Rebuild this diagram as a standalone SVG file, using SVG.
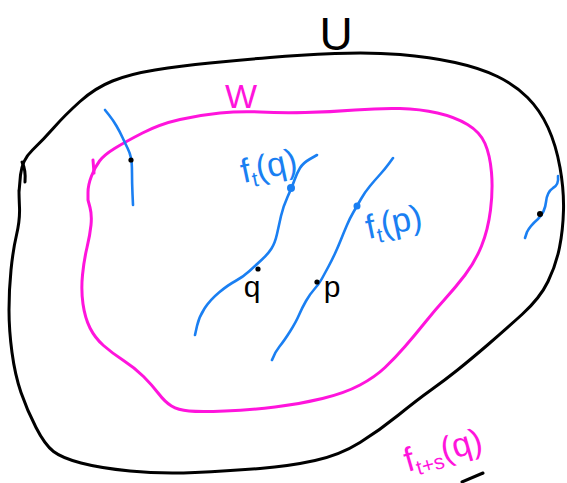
<svg xmlns="http://www.w3.org/2000/svg" width="567" height="483" viewBox="0 0 567 483">
<style>
.k{fill:none;stroke:#000;stroke-width:3;stroke-linecap:round;stroke-linejoin:round}
.m{fill:none;stroke:#ff14dc;stroke-width:3;stroke-linecap:round;stroke-linejoin:round}
.b{fill:none;stroke:#1a7ff2;stroke-width:2.6;stroke-linecap:round;stroke-linejoin:round}
.dk{fill:#000}
.db{fill:#1a7ff2}
.t{font-family:"Liberation Sans",Arial,sans-serif}
.tk{fill:#000}
.tm{fill:#ff14dc}
.tb{fill:#1a7ff2}
</style>
<rect width="567" height="483" fill="#fff"/>
<g id="set-U">
<path class="k" d="M19,192 L20.5,175 Q22,160 32.5,150 Q43,140 54,127.5 Q65,115 80,101.5 Q95,88 112.5,81 Q130,74 155,70 Q180,66 210,63 Q240,60 270,57.5 Q300,55 335,53.5 Q370,52 400,54.5 Q430,57 455,62.5 Q480,68 497.5,76.5 Q515,85 527.5,97.5 Q540,110 548,127.5 Q556,145 560,167.5 Q564,190 563.5,210 Q563,230 559.5,247.5 Q556,265 548,281.5 Q540,298 522.5,314 Q505,330 487.5,345 Q470,360 457.5,370 Q445,380 431,390 Q417,400 398.5,415 Q380,430 360,442.5 Q340,455 315,460.5 Q290,466 260,468.5 Q230,471 195,472.5 Q160,474 130,471 Q100,468 81,463 Q62,458 53.5,451.5 Q45,445 36,427.5 Q27,410 21,392.5 Q15,375 12,352.5 Q9,330 9,310 Q9,290 11,270 Q13,250 16.5,235 Q20,220 19.5,207.5 Q19,195 19,190"/>
<path class="k" d="M22,162 Q26,170 25,182"/>
<path class="k" d="M462,482 L483,473"/>
<text class="t tk" x="336" y="50" font-size="46" text-anchor="middle">U</text>
</g>
<g id="set-W">
<path class="m" d="M88,200 L88,192.5 Q88,185 91.5,176 Q95,167 99.5,161 Q104,155 114.5,148.5 Q125,142 142.5,133 Q160,124 180,119.5 Q200,115 220,113 Q240,111 260,112 Q280,113 305,112.5 Q330,112 355,110 Q380,108 400,108.5 Q420,109 437.5,113 Q455,117 467.5,124.5 Q480,132 485,143.5 Q490,155 491.5,172.5 Q493,190 490.5,210 Q488,230 481.5,246 Q475,262 465,275 Q455,288 445,299 Q435,310 425,322.5 Q415,335 405,346.5 Q395,358 385,367.5 Q375,377 360,385 Q345,393 322.5,398.5 Q300,404 275,407 Q250,410 225,411 Q200,412 189,411 Q178,410 171.5,406 Q165,402 158.5,393.5 Q152,385 143.5,376.5 Q135,368 123.5,360.5 Q112,353 103.5,345.5 Q95,338 90,328 Q85,318 83,304 Q81,290 82.5,275 Q84,260 87,247.5 Q90,235 91,225 Q92,215 90,207.5 L88,200"/>
<path class="m" d="M93,160 L94,173"/>
<text class="t tm" x="241" y="108" font-size="34" text-anchor="middle">W</text>
</g>
<g id="connectors">
<path id="orbit-left" class="b" d="M105,110 L109,115 Q113,120 116.5,126 Q120,132 122.5,137.5 Q125,143 127.5,148 Q130,153 131,158 Q132,163 132,173 Q132,183 132.5,194 L133,205"/>
<path id="orbit-q" class="b" d="M317,155 L310,159 Q303,163 300,168 Q297,173 294.5,180 Q292,187 287.5,197 Q283,207 281,216 Q279,225 277,234 Q275,243 271.5,248.5 Q268,254 262,259.5 Q256,265 249.5,271 Q243,277 235.5,281 Q228,285 219,292.5 Q210,300 204.5,308.5 Q199,317 197,326 L195,335"/>
<path id="orbit-p" class="b" d="M393,158 L389,163.5 Q385,169 380,174.5 Q375,180 370,186 Q365,192 361,199 Q357,206 353.5,212 Q350,218 347,225 Q344,232 341,239.5 Q338,247 335,253.5 Q332,260 328.5,266.5 Q325,273 322,278.5 Q319,284 314.5,289 Q310,294 306,301 Q302,308 299,315 Q296,322 290,331.5 Q284,341 279.5,346.5 Q275,352 272,360"/>
<path id="orbit-right" class="b" d="M558,176 Q559,185 553,188 Q547,192 546,202 Q545,212 538,219 Q530,226 527,232 L525,238"/>
</g>
<g id="points">
<circle class="dk" cx="131" cy="160" r="2.6"/>
<circle class="dk" cx="258" cy="269" r="2.6"/>
<circle class="dk" cx="317" cy="282" r="2.6"/>
<circle class="dk" cx="540" cy="214" r="3"/>
<circle class="db" cx="291" cy="188" r="4"/>
<circle class="db" cx="357" cy="206" r="3.5"/>
</g>
<g id="labels">
<text class="t tk" x="252" y="297" font-size="30" text-anchor="middle">q</text>
<text class="t tk" x="332" y="297" font-size="30" text-anchor="middle">p</text>
<text class="t tb" x="271" y="177" font-size="34" text-anchor="middle" transform="rotate(-12 271 177)">f<tspan font-size="21" dy="6">t</tspan><tspan dy="-6">(q)</tspan></text>
<text class="t tb" x="396" y="233" font-size="34" text-anchor="middle" transform="rotate(-12 396 233)">f<tspan font-size="21" dy="6">t</tspan><tspan dy="-6">(p)</tspan></text>
<text class="t tm" x="446" y="461" font-size="34" text-anchor="middle" transform="rotate(-16 446 461)">f<tspan font-size="21" dy="6">t+s</tspan><tspan dy="-6">(q)</tspan></text>
</g>
</svg>
